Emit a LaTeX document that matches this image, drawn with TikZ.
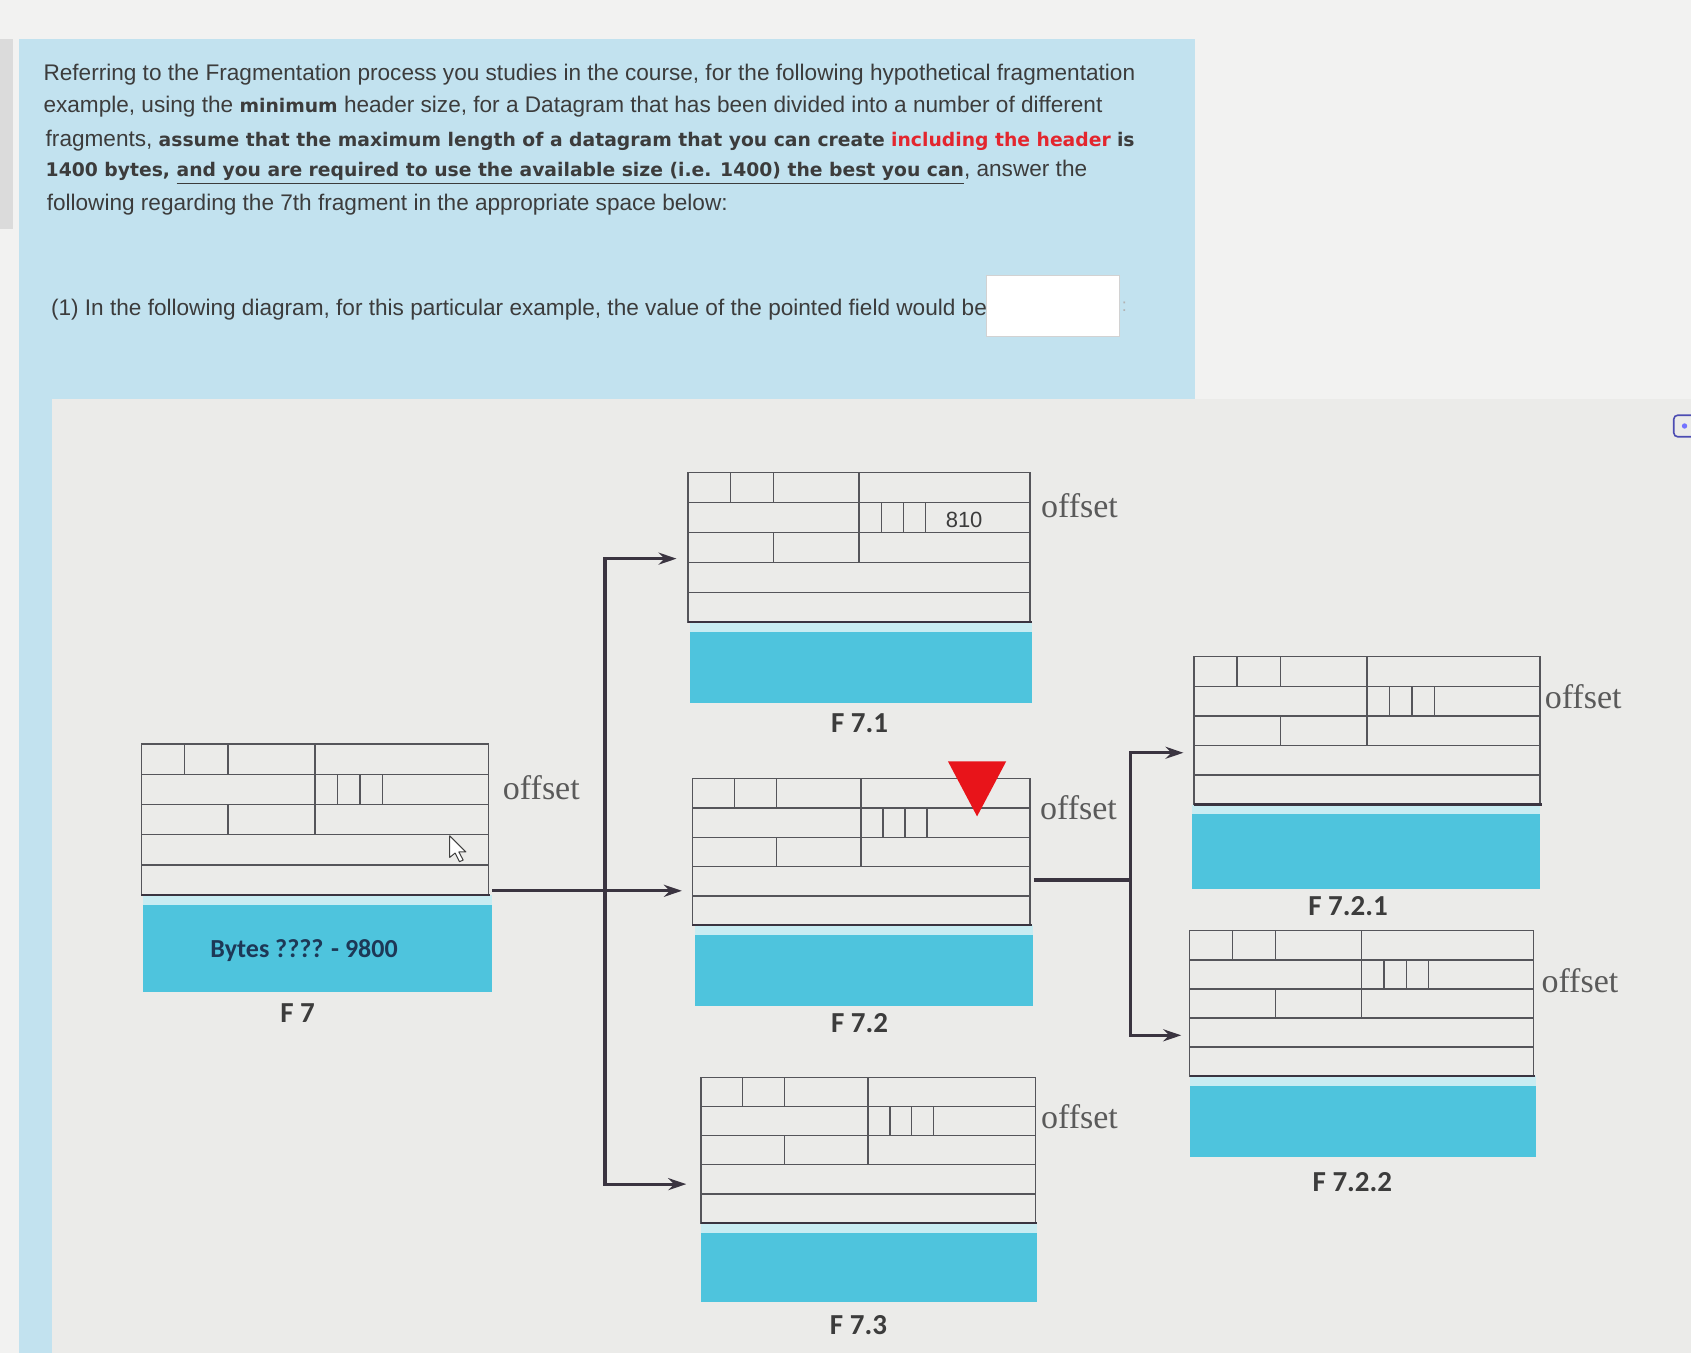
\documentclass[tikz,border=0pt]{standalone}
\usepackage{fontspec}
\setmainfont{Liberation Sans}
\newfontfamily\verdfont{DejaVu Sans}[Scale=0.83]
\newfontfamily\offsetfont{Liberation Serif}
\newfontfamily\labfont{Carlito}
\usetikzlibrary{arrows.meta,fit,calc}
\definecolor{panelblue}{HTML}{C2E2EF}
\definecolor{diagbg}{HTML}{EBEBE9}
\definecolor{topbg}{HTML}{F2F2F1}
\definecolor{cyanfill}{HTML}{4EC4DD}
\definecolor{cyanlight}{HTML}{C8ECF2}
\definecolor{gridc}{HTML}{55555A}
\definecolor{connc}{HTML}{3A3440}
\definecolor{txt}{HTML}{3C3C3C}
\definecolor{redtxt}{HTML}{E3262E}
\definecolor{navy}{HTML}{1D3856}
\definecolor{tri}{HTML}{E8141A}
\definecolor{offc}{HTML}{5A5A5A}
\newcommand\bv[1]{{\verdfont\bfseries #1}}
% name, hx0, hy0, hx1, hy1, dx0, dx1, dy1
\newcommand\fragment[8]{%
  \pgfmathsetmacro\fW{#4-#2}%
  \pgfmathsetmacro\fR{(#5-#3)/5}%
  \node[dat,fit={(#6,#5) (#7,#8)}] (#1d) {};
  \fill[cyanlight] (#6,#5) rectangle (#7,#5+9);
  \node[hdr,fit={(#2,#3) (#4,#5)}] (#1h) {};
  \draw[gridline] (#2,#3+\fR) -- (#4,#3+\fR)
    (#2,#3+2*\fR) -- (#4,#3+2*\fR)
    (#2,#3+3*\fR) -- (#4,#3+3*\fR)
    (#2,#3+4*\fR) -- (#4,#3+4*\fR)
    (#2+0.125*\fW,#3) -- (#2+0.125*\fW,#3+\fR)
    (#2+0.25*\fW,#3) -- (#2+0.25*\fW,#3+\fR)
    (#2+0.5*\fW,#3) -- (#2+0.5*\fW,#3+\fR)
    (#2+0.5*\fW,#3+\fR) -- (#2+0.5*\fW,#3+2*\fR)
    (#2+0.565*\fW,#3+\fR) -- (#2+0.565*\fW,#3+2*\fR)
    (#2+0.63*\fW,#3+\fR) -- (#2+0.63*\fW,#3+2*\fR)
    (#2+0.695*\fW,#3+\fR) -- (#2+0.695*\fW,#3+2*\fR)
    (#2+0.25*\fW,#3+2*\fR) -- (#2+0.25*\fW,#3+3*\fR)
    (#2+0.5*\fW,#3+2*\fR) -- (#2+0.5*\fW,#3+3*\fR);
  \draw[connc,line width=1.1pt] (#2,#5) -- (#4+1.5,#5);
}
\begin{document}
\begin{tikzpicture}[x=0.5392pt,y=-0.5392pt,
  gridline/.style={draw=gridc,line width=0.7pt},
  hdr/.style={draw=gridc,line width=0.7pt,inner sep=0pt},
  dat/.style={fill=cyanfill,inner sep=0pt},
  conn/.style={draw=connc,line width=1.6pt},
  arr/.style={conn,-{Stealth[length=9pt,width=6pt]}},
  offs/.style={font=\offsetfont\fontsize{17pt}{17pt}\selectfont,text=offc,inner sep=0pt},
  flab/.style={font=\labfont\bfseries\fontsize{14.5pt}{14.5pt}\selectfont,text=txt,inner sep=0pt},
  para/.style={anchor=west,inner sep=0pt,text=txt,font=\fontsize{11.3pt}{13pt}\selectfont},
]
% backgrounds
\fill[topbg] (0,0) rectangle (1568,1255);
\fill[diagbg] (48,370) rectangle (1568,1255);
\fill[panelblue] (18,36) rectangle (1108,370);
\fill[panelblue] (18,370) rectangle (48,1255);
\fill[gray!28] (0,36) rectangle (12,212);
\useasboundingbox (0,0) rectangle (1568,1255);

% question text
\node[para] (p1) at (40,69) {Referring to the Fragmentation process you studies in the course, for the following hypothetical fragmentation};
\node[para] (p2) at (40,99) {example, using the \bv{minimum} header size, for a Datagram that has been divided into a number of different};
\node[para] (p3) at (42,130) {fragments, \bv{assume that the maximum length of a datagram that you can create} \textcolor{redtxt}{\bv{including the header}} \bv{is}};
\node[para] (p4) at (42,160) {\bv{1400 bytes, \underline{and you are required to use the available size (i.e. 1400) the best you can}}, answer the};
\node[para] (p5) at (43,190) {following regarding the 7th fragment in the appropriate space below:};
\node[para] (q1) at (47,287) {(1) In the following diagram, for this particular example, the value of the pointed field would be};
\node[fit={(915,255) (1038,312)},fill=white,draw=gray!35,inner sep=0pt] (ans) {};
\node[anchor=west,inner sep=0pt,text=gray!60,font=\fontsize{9pt}{9pt}\selectfont] (colon) at (1040,284) {:};

% icon at right edge
\draw[gray!60!blue,line width=0.8pt,rounded corners=2pt] (1552,385) rectangle (1575,405);
\fill[blue!55] (1562,395) circle (2.5);

% fragments
\fragment{f7}{131}{690}{453}{830}{133}{456}{920}
\fragment{f71}{638}{438}{955}{577}{640}{957}{652}
\fragment{f72}{642}{722}{955}{858}{644}{958}{933}
\fragment{f73}{650}{999}{960}{1134}{650}{962}{1207}
\fragment{f721}{1107}{609}{1428}{746}{1105}{1428}{824}
\fragment{f722}{1103}{863}{1422}{998}{1103}{1424}{1073}

\node[font=\labfont\bfseries\fontsize{13pt}{13pt}\selectfont,text=navy,inner sep=0pt] (bytes) at (282,881) {Bytes ???? - 9800};
\node[font=\fontsize{11pt}{11pt}\selectfont,text=txt,inner sep=0pt] (v810) at (894,482) {810};

% labels
\node[flab] (l7) at (276,939) {F 7};
\node[flab] (l71) at (797,671) {F 7.1};
\node[flab] (l72) at (797,949) {F 7.2};
\node[flab] (l73) at (796,1229) {F 7.3};
\node[flab] (l721) at (1250,840) {F 7.2.1};
\node[flab] (l722) at (1254,1096) {F 7.2.2};

\node[offs] (o7) at (502,730) {offset};
\node[offs] (o71) at (1001,469) {offset};
\node[offs] (o72) at (1000,749) {offset};
\node[offs] (o73) at (1001,1035) {offset};
\node[offs] (o721) at (1468,646) {offset};
\node[offs] (o722) at (1465,909) {offset};

% connectors, first split
\coordinate (j1) at (561,826);
\coordinate (t1) at (561,518);
\coordinate (t3) at (561,1098);
\draw[conn] (f7d.north east |- j1) -- (j1);
\draw[conn,line cap=rect] (t1) -- (t3);
\draw[arr] (j1) -- ($(f72h.west |- j1)+(-9,0)$);
\draw[arr] (t1) -- ($(f71h.west |- t1)+(-10,0)$);
\draw[arr] (t3) -- ($(f73h.west |- t3)+(-13,0)$);

% second split
\coordinate (j2) at (1048,816);
\coordinate (s1) at (1048,698);
\coordinate (s2) at (1048,960);
\draw[conn] (f72d.north east |- j2) -- (j2);
\draw[conn,line cap=rect] (s1) -- (s2);
\draw[arr] (s1) -- ($(f721h.west |- s1)+(-9,0)$);
\draw[arr] (s2) -- ($(f722h.west |- s2)+(-7,0)$);

% pointer triangle
\fill[tri] (879,706) -- (933,706) -- (906,757) -- cycle;

% mouse cursor
\begin{scope}[shift={(417,775)}]
\draw[black!75,fill=white,line width=0.5pt,line join=round]
  (0,0) -- (0,20) -- (5,16) -- (9,24) -- (12.5,22.5) -- (8.5,15) -- (15,15) -- cycle;
\end{scope}
\end{tikzpicture}
\end{document}
